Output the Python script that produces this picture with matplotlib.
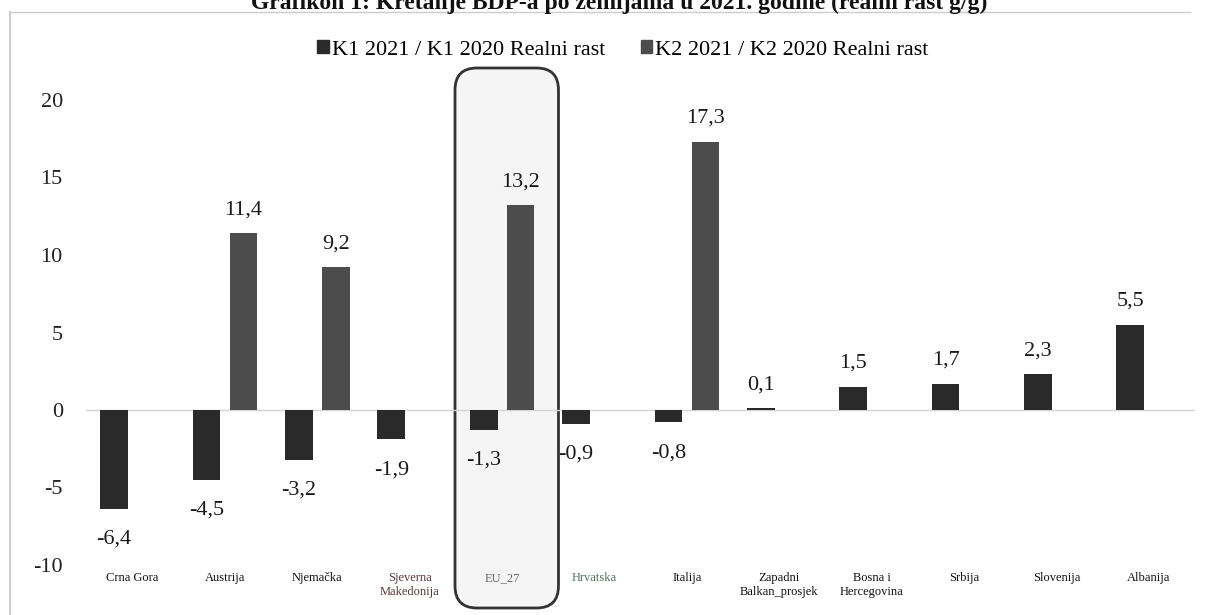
import numpy as np
import matplotlib
matplotlib.use("Agg")
import matplotlib.pyplot as plt
from matplotlib.patches import FancyBboxPatch, Patch
from matplotlib.lines import Line2D

# Data
categories = ["Crna Gora", "Austrija", "Njemačka", "Sjeverna\nMakedonija", "EU_27",
              "Hrvatska", "Italija", "Zapadni\nBalkan_prosjek", "Bosna i\nHercegovina",
              "Srbija", "Slovenija", "Albanija"]
k1 = [-6.4, -4.5, -3.2, -1.9, -1.3, -0.9, -0.8, 0.1, 1.5, 1.7, 2.3, 5.5]
k2 = [np.nan, 11.4, 9.2, np.nan, 13.2, np.nan, 17.3, np.nan, np.nan, np.nan, np.nan, np.nan]
label_colors = ["#111111", "#111111", "#111111", "#5a3838", "#666666", "#4f6f5f",
                "#111111", "#111111", "#111111", "#111111", "#111111", "#111111"]
series_names = ["K1 2021 / K1 2020 Realni rast", "K2 2021 / K2 2020 Realni rast"]
title = "Grafikon 1: Kretanje BDP-a po zemljama u 2021. godine (realni rast g/g)"

serif = "Liberation Serif"
c1, c2 = "#2a2a2a", "#4c4c4c"

W, H = 1214, 615
fig = plt.figure(figsize=(W / 100, H / 100), dpi=100)
ax = fig.add_axes([86.4 / W, 50 / H, (1195 - 86.4) / W, 465 / H])
ax.set_facecolor("none")

x = np.arange(len(categories))
bw, off = 0.3, 0.2
b1 = ax.bar(x - off, k1, bw, color=c1, zorder=3)
b2 = ax.bar(x + off, k2, bw, color=c2, zorder=3)

# value labels with decimal comma
for xs, vals in [(x - off, k1), (x + off, k2)]:
    for xi, v in zip(xs, vals):
        if np.isnan(v):
            continue
        txt = f"{v:.1f}".replace(".", ",")
        if v >= 0:
            ax.annotate(txt, (xi, v), xytext=(0, 10), textcoords="offset points",
                        ha="center", va="bottom", fontsize=16, family=serif, color="#1a1a1a")
        else:
            ax.annotate(txt, (xi, v), xytext=(0, -15), textcoords="offset points",
                        ha="center", va="top", fontsize=16, family=serif, color="#1a1a1a")

ax.axhline(0, color="#d4d4d4", lw=1, zorder=2)
ax.set_xlim(-0.5, len(categories) - 0.5)
ax.set_ylim(-10, 20)
ax.set_yticks(range(-10, 21, 5))
ax.set_yticklabels([str(t) for t in range(-10, 21, 5)], family=serif, fontsize=16, color="#222222")
ax.set_xticks(x)
ax.set_xticklabels(categories, family=serif, fontsize=9)
for lbl, col in zip(ax.get_xticklabels(), label_colors):
    lbl.set_color(col)
ax.tick_params(axis="y", length=0, pad=17)
ax.tick_params(axis="x", length=0, pad=5)
for s in ax.spines.values():
    s.set_visible(False)

# highlight box around EU_27
idx = categories.index("EU_27")
x0 = ax.transData.transform((idx - 0.51, 0))[0] / fig.dpi
x1 = ax.transData.transform((idx + 0.61, 0))[0] / fig.dpi
y0, y1 = (H - 608) / 100, (H - 68) / 100
box = FancyBboxPatch((x0, y0), x1 - x0, y1 - y0, boxstyle="round,pad=0,rounding_size=0.22",
                     transform=fig.dpi_scale_trans, facecolor="#f5f5f5",
                     edgecolor="#333333", lw=2, zorder=-1)
fig.add_artist(box)

# legend
handles = [Patch(color=c1), Patch(color=c2)]
fig.legend(handles, series_names, loc="center", bbox_to_anchor=(623 / W, 1 - 50 / H),
           ncol=2, frameon=False, handlelength=0.5, handleheight=0.5, handletextpad=0.15,
           columnspacing=1.6, prop={"family": serif, "size": 16})

# title (cut at the top in the scan) and frame lines
fig.text(0.51, 1 - 9 / H, title, ha="center", va="baseline", fontsize=17,
         fontweight="bold", family=serif, color="#111111")
fig.add_artist(Line2D([10 / W, 1190 / W], [1 - 12 / H] * 2, transform=fig.transFigure,
                      color="#cccccc", lw=1))
fig.add_artist(Line2D([10 / W, 10 / W], [0, 1 - 12 / H], transform=fig.transFigure,
                      color="#cccccc", lw=1.5))

fig.savefig("out.png", dpi=100)
